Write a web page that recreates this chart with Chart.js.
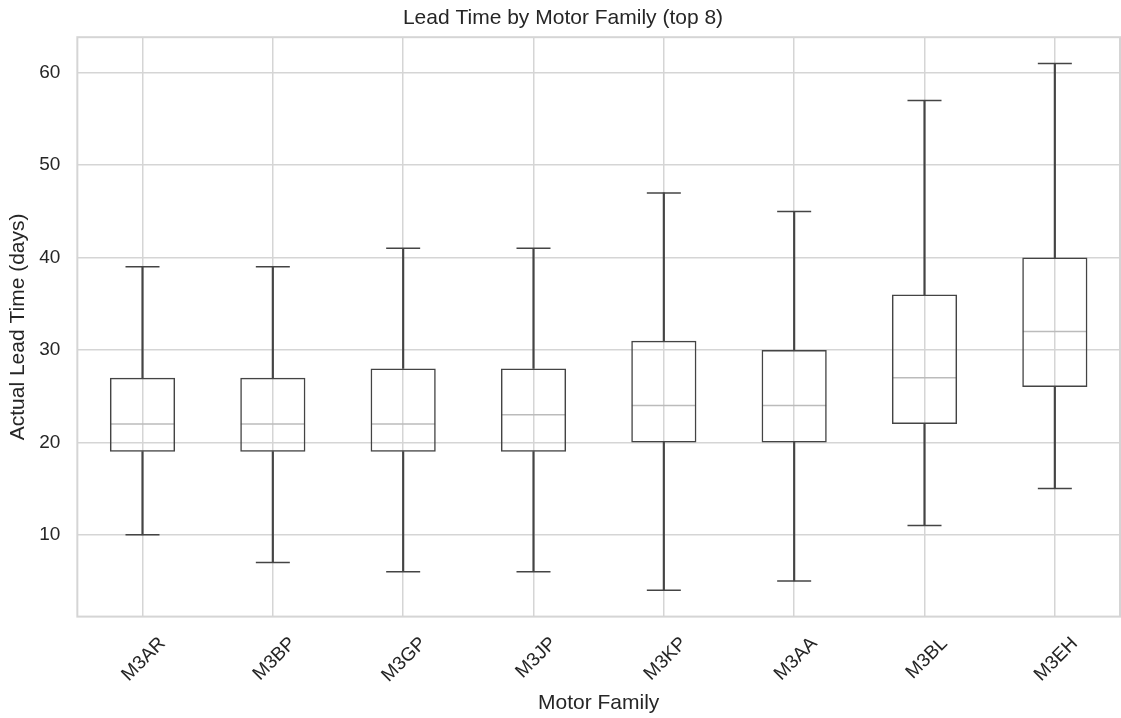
<!DOCTYPE html>
<html>
<head>
<meta charset="utf-8">
<script src="https://cdn.jsdelivr.net/npm/chart.js@4.4.1/dist/chart.umd.min.js"></script>
<style>
  html, body { margin: 0; padding: 0; background: #fff; }
  #wrap { width: 1121px; height: 718px; }
</style>
</head>
<body>
<div id="wrap"><canvas id="leadChart"></canvas></div>
<script>
// five-number summaries
const families = ['M3AR', 'M3BP', 'M3GP', 'M3JP', 'M3KP', 'M3AA', 'M3BL', 'M3EH'];
const whiskerLow = [10, 7, 6, 6, 4, 5, 11, 15];
const q1 = [19, 19, 19, 19, 20, 20, 22, 26];
const median = [22, 22, 22, 23, 24, 24, 27, 32];
const q3 = [27, 27, 28, 28, 31, 30, 36, 40];
const whiskerHigh = [39, 39, 41, 41, 47, 45, 57, 61];
const yTicks = [10, 20, 30, 40, 50, 60];

const ink = '#444444';
const gridCol = '#d5d5d5';
const font = 'Liberation Sans, Arial, sans-serif';

// outer frame like seaborn whitegrid
const frame = {
    id: 'frame',
    beforeDatasetsDraw(chart) {
        const { ctx, chartArea: a } = chart;
        ctx.save();
        ctx.strokeStyle = gridCol;
        ctx.lineWidth = 2;
        ctx.strokeRect(a.left, a.top, a.right - a.left, a.bottom - a.top);
        ctx.restore();
    }
};

const capStyle = (data, radius, color) => ({
    type: 'line',
    data: data,
    showLine: false,
    pointStyle: 'line',
    pointRadius: radius,
    pointHoverRadius: radius,
    pointBorderColor: color,
    pointBorderWidth: 1.5,
    borderColor: color
});

new Chart(document.getElementById('leadChart'), {
    type: 'bar',
    data: {
        labels: families,
        datasets: [
            { data: families.map((_, i) => [whiskerLow[i], q1[i]]), backgroundColor: ink, barThickness: 1.5, grouped: false },
            { data: families.map((_, i) => [q3[i], whiskerHigh[i]]), backgroundColor: ink, barThickness: 1.5, grouped: false },
            {
                data: families.map((_, i) => [q1[i], q3[i]]),
                backgroundColor: 'rgba(0,0,0,0)', borderColor: ink, borderWidth: 1.5,
                borderSkipped: false, barPercentage: 0.5, categoryPercentage: 1, grouped: false
            },
            capStyle(whiskerLow, 17, ink),
            capStyle(whiskerHigh, 17, ink),
            capStyle(median, 32, '#bbbbbb')
        ]
    },
    options: {
        responsive: true,
        maintainAspectRatio: false,
        animation: false,
        layout: { autoPadding: false, padding: { left: 6, right: 1, top: 0, bottom: 2 } },
        plugins: {
            legend: { display: false },
            tooltip: { enabled: false },
            title: {
                display: true, text: 'Lead Time by Motor Family (top 8)',
                color: '#262626', font: { family: font, size: 21, weight: 'normal' },
                padding: { top: 6, bottom: 6 }
            }
        },
        scales: {
            x: {
                offset: true,
                grid: { color: gridCol, lineWidth: 1.5, offset: false, drawTicks: false },
                border: { display: false },
                ticks: {
                    color: '#262626', font: { family: font, size: 19 },
                    minRotation: 45, maxRotation: 45, labelOffset: 20, padding: 16
                },
                title: { display: true, text: 'Motor Family', color: '#262626', font: { family: font, size: 21 }, padding: { top: -12, bottom: 0 } }
            },
            y: {
                min: 1.15, max: 63.85,
                afterBuildTicks: s => { s.ticks = yTicks.map(v => ({ value: v })); },
                grid: { color: gridCol, lineWidth: 1.5, drawTicks: false },
                border: { display: false },
                ticks: { color: '#262626', font: { family: font, size: 19 }, padding: 17 },
                title: { display: true, text: 'Actual Lead Time (days)', color: '#262626', font: { family: font, size: 21 }, padding: { top: 0, bottom: -9 } }
            }
        }
    },
    plugins: [frame]
});
</script>
</body>
</html>
